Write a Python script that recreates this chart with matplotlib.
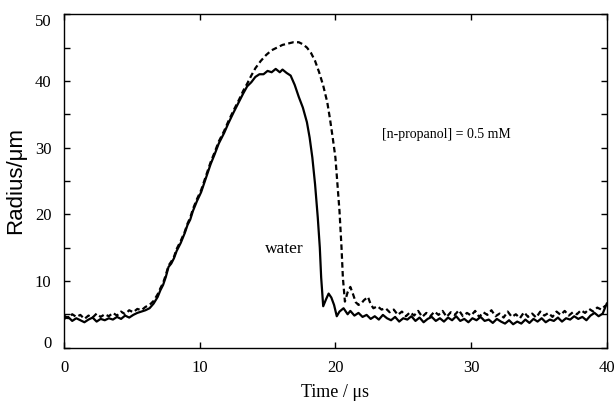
import matplotlib
matplotlib.use("Agg")
import matplotlib.pyplot as plt
from matplotlib.transforms import ScaledTranslation

# water (solid line)
t_water = [0, 0.3, 0.6, 0.9, 1.2, 1.5, 1.8, 2.1, 2.4, 2.7, 3.0, 3.3, 3.6, 3.9, 4.2, 4.5, 4.8,
           5.1, 5.4, 5.7, 6.0, 6.3, 6.6, 6.9, 7.1, 7.3, 7.5, 7.7, 7.9, 8.1, 8.3, 8.6, 8.9,
           9.1, 9.3, 9.5, 9.8, 10.1, 10.4, 10.8, 11.1, 11.4, 11.8, 12.1, 12.5, 12.9, 13.2,
           13.5, 13.8, 14.1, 14.4, 14.7, 15.0, 15.3, 15.6, 15.9, 16.1, 16.4, 16.7, 17.0,
           17.3, 17.6, 17.9, 18.1, 18.3, 18.5, 18.7, 18.85, 18.95, 19.1, 19.3, 19.5, 19.7,
           19.9, 20.1, 20.3, 20.6, 20.9, 21.1, 21.4, 21.7, 22.0, 22.3, 22.6, 22.9, 23.2,
           23.5, 23.8, 24.1, 24.4, 24.7, 25.0, 25.3, 25.6, 25.9, 26.2, 26.5, 26.8, 27.1,
           27.4, 27.7, 28.0, 28.3, 28.6, 28.9, 29.2, 29.5, 29.8, 30.1, 30.4, 30.7, 31.0,
           31.3, 31.6, 31.9, 32.2, 32.5, 32.8, 33.1, 33.4, 33.7, 34.0, 34.3, 34.6, 34.9,
           35.2, 35.5, 35.8, 36.1, 36.4, 36.7, 37.0, 37.3, 37.6, 37.9, 38.2, 38.5, 38.8,
           39.1, 39.4, 39.7, 40.0]
r_water = [4.3, 4.6, 4.0, 4.4, 4.1, 3.8, 4.2, 4.5, 3.9, 4.3, 4.1, 4.4, 4.2, 4.6, 4.3, 4.8, 4.5,
           4.9, 5.2, 5.4, 5.6, 5.9, 6.6, 7.6, 8.6, 9.4, 10.6, 12.1, 12.6, 13.4, 14.5, 15.7, 17.2,
           18.4, 19.2, 20.5, 22.0, 23.3, 25.1, 27.5, 29.0, 30.6, 32.2, 33.6, 35.3, 36.9, 38.1,
           39.2, 39.8, 40.6, 41.0, 41.0, 41.5, 41.3, 41.8, 41.3, 41.7, 41.2, 40.8, 39.4,
           37.6, 36.0, 33.8, 31.5, 28.5, 24.5, 19.5, 15.0, 10.5, 6.2, 7.2, 8.1, 7.5,
           6.4, 4.7, 5.4, 5.9, 5.0, 5.5, 4.8, 5.2, 4.6, 4.9, 4.3, 4.7, 4.2,
           4.9, 4.4, 4.1, 4.6, 3.9, 4.4, 4.2, 4.7, 4.0, 4.5, 3.8, 4.3, 4.6,
           4.0, 4.4, 3.9, 4.5, 4.1, 4.7, 4.0, 4.3, 3.8, 4.4, 4.1, 4.6, 4.0,
           4.2, 3.7, 4.3, 3.9, 3.6, 4.1, 3.5, 3.9, 3.6, 4.2, 3.7, 4.3, 3.9,
           4.4, 3.8, 4.2, 4.0, 4.5, 3.9, 4.4, 4.2, 4.7, 4.3, 4.6, 4.1, 4.8,
           5.2, 4.7, 5.1, 6.6]

# [n-propanol] = 0.5 mM (dashed line)
t_prop = [0, 0.3, 0.6, 0.9, 1.2, 1.5, 1.8, 2.1, 2.4, 2.7, 3.0, 3.3, 3.6, 3.9, 4.2, 4.5, 4.8,
          5.1, 5.4, 5.7, 6.0, 6.3, 6.6, 6.9, 7.1, 7.3, 7.5, 7.7, 7.9, 8.1, 8.3, 8.6, 8.9,
          9.1, 9.3, 9.5, 9.8, 10.1, 10.4, 10.8, 11.1, 11.4, 11.8, 12.1, 12.5, 12.9, 13.2,
          13.5, 13.8, 14.1, 14.5, 14.9, 15.3, 15.7, 16.1, 16.5, 16.9, 17.3, 17.6, 17.9,
          18.2, 18.5, 18.8, 19.1, 19.4, 19.6, 19.8, 20.0, 20.15, 20.3, 20.45, 20.55, 20.7,
          20.9, 21.1, 21.3, 21.5, 21.7, 21.9, 22.1, 22.4, 22.6, 22.8, 23.1, 23.4, 23.7,
          24.0, 24.3, 24.6, 24.9, 25.2, 25.5, 25.8, 26.1, 26.4, 26.7, 27.0, 27.3, 27.6,
          27.9, 28.2, 28.5, 28.8, 29.1, 29.4, 29.7, 30.0, 30.3, 30.6, 30.9, 31.2, 31.5,
          31.8, 32.1, 32.4, 32.7, 33.0, 33.3, 33.6, 33.9, 34.2, 34.5, 34.8, 35.1, 35.4,
          35.7, 36.0, 36.3, 36.6, 36.9, 37.2, 37.5, 37.8, 38.1, 38.4, 38.7, 39.0, 39.3,
          39.6, 39.9]
r_prop = [4.8, 4.4, 5.0, 4.6, 4.9, 4.3, 4.8, 4.5, 5.1, 4.6, 5.0, 4.7, 5.2, 4.8, 5.4, 5.0, 5.6,
          5.3, 5.8, 5.6, 6.1, 6.4, 7.0, 8.0, 8.9, 9.7, 10.9, 12.3, 12.9, 13.6, 14.8, 16.0, 17.4,
          18.6, 19.5, 20.8, 22.3, 23.6, 25.4, 27.8, 29.3, 30.9, 32.5, 33.9, 35.6, 37.2, 38.5,
          39.6, 40.8, 41.9, 43.0, 43.9, 44.6, 45.0, 45.4, 45.6, 45.8, 45.8, 45.5, 45.0,
          44.2, 43.0, 41.3, 39.3, 36.8, 34.3, 31.5, 28.5, 24.5, 20.5, 15.0, 10.5, 6.9,
          8.3, 9.1, 8.0, 6.8, 6.4, 6.6, 7.1, 7.6, 6.5, 5.9, 6.2, 5.7, 5.9,
          5.3, 5.7, 4.9, 5.4, 4.7, 5.3, 4.8, 5.5, 4.6, 5.2, 4.7, 5.4, 4.9,
          5.5, 4.6, 5.3, 4.9, 5.6, 4.7, 5.2, 4.8, 5.5, 4.6, 5.3, 4.9, 5.6,
          4.7, 5.1, 4.5, 5.4, 4.6, 5.0, 4.4, 5.3, 4.6, 5.1, 4.5, 5.4, 4.8,
          5.2, 4.6, 5.4, 4.9, 5.5, 4.8, 5.3, 5.0, 5.6, 5.2, 5.8, 5.4, 6.0,
          5.7, 6.3]

x_ticks = [0, 10, 20, 30, 40]
y_ticks = [0, 10, 20, 30, 40, 50]

serif = "Liberation Serif"

fig = plt.figure(figsize=(6.16, 4.07), dpi=100)
ax = fig.add_axes([0.104, 0.146, 0.881, 0.819])

ax.plot(t_water, r_water, color="black", lw=1.6, solid_joinstyle="round")
ax.plot(t_prop, r_prop, color="black", lw=1.6, ls=(0, (2.5, 1.5)))

ax.set_xlim(0, 40)
ax.set_ylim(0, 50)
ax.set_xticks(x_ticks)
ax.set_yticks(y_ticks)
ax.set_yticks([5, 15, 25, 35, 45], minor=True)
ax.tick_params(which="both", direction="in", top=True, right=True,
               length=4, width=1)
ax.tick_params(axis="x", pad=9, labelsize=12)
ax.tick_params(axis="y", pad=9, labelsize=12)
for lab in ax.get_xticklabels() + ax.get_yticklabels():
    lab.set_fontfamily(serif)
for sp in ax.spines.values():
    sp.set_linewidth(1)

# end labels on the y axis are pulled inside the frame
ylabs = ax.get_yticklabels()
ylabs[0].set_transform(ylabs[0].get_transform() + ScaledTranslation(0, 0.06, fig.dpi_scale_trans))
ylabs[-1].set_transform(ylabs[-1].get_transform() + ScaledTranslation(0, -0.06, fig.dpi_scale_trans))

ax.set_xlabel("Time / μs", fontfamily=serif, fontsize=13, labelpad=6)
ax.set_ylabel("Radius/μm", fontfamily="Liberation Sans", fontsize=16, labelpad=6)

ax.text(23.4, 31.9, "[n-propanol] = 0.5 mM", fontfamily=serif, fontsize=10,
        va="center", ha="left")
ax.text(16.2, 14.8, "water", fontfamily=serif, fontsize=12.5, va="center", ha="center")

fig.savefig("out.png", dpi=100)
